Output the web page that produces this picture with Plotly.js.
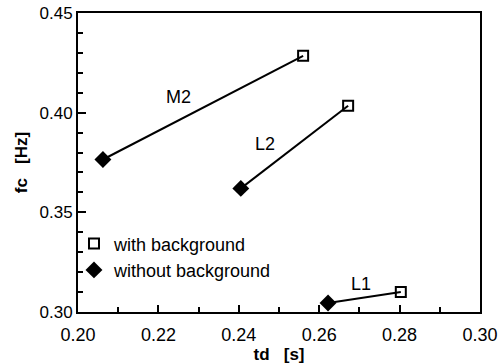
<!DOCTYPE html>
<html><head><meta charset="utf-8">
<script src="https://cdn.plot.ly/plotly-3.0.1.min.js"></script>
<style>html,body{margin:0;padding:0;background:#fff}#c{width:503px;height:364px}</style>
</head><body><div id="c"></div>
<script>
const series = ["M2", "L2", "L1"];
const tdWith = [0.2560, 0.2672, 0.2803];
const fcWith = [0.4285, 0.4035, 0.3100];
const tdWithout = [0.2062, 0.2405, 0.2622];
const fcWithout = [0.3765, 0.3620, 0.3045];
const labelTd = [0.2249, 0.2465, 0.2704];
const labelFc = [0.4080, 0.3845, 0.3140];
const xTicks = [0.20, 0.22, 0.24, 0.26, 0.28, 0.30];
const yTicks = [0.30, 0.35, 0.40, 0.45];

const traces = [];
series.forEach((s, i) => {
  traces.push({x: [tdWithout[i], tdWith[i]], y: [fcWithout[i], fcWith[i]], mode: 'lines',
    line: {color: '#000', width: 2}, showlegend: false, hoverinfo: 'skip', cliponaxis: false});
});
traces.push({x: tdWith, y: fcWith, mode: 'markers', name: 'with background', cliponaxis: false,
  marker: {symbol: 'square-open', size: 10, color: '#000', line: {width: 2, color: '#000'}}});
traces.push({x: tdWithout, y: fcWithout, mode: 'markers', name: 'without background', cliponaxis: false,
  marker: {symbol: 'diamond', size: 13, color: '#000', line: {width: 0}}});

const fontFam = 'Liberation Sans, Arial, sans-serif';
const layout = {
  width: 503, height: 364,
  margin: {l: 78, r: 23, t: 13, b: 52},
  paper_bgcolor: '#fff', plot_bgcolor: '#fff',
  font: {family: fontFam, color: '#000', size: 17},
  showlegend: true,
  legend: {x: -0.01, y: 0.29, xanchor: 'left', yanchor: 'top', bgcolor: 'rgba(0,0,0,0)',
    font: {size: 18, family: fontFam}, itemwidth: 30, tracegroupgap: 0},
  xaxis: {range: [0.20, 0.30], tickvals: xTicks, ticktext: xTicks.map(v => v.toFixed(2)),
    ticks: 'inside', ticklen: 7, tickwidth: 2, tickcolor: '#000', ticklabelstandoff: 5,
    minor: {dtick: 0.01, ticks: 'inside', ticklen: 5, tickwidth: 2, tickcolor: '#000', showgrid: false},
    showline: true, linecolor: '#000', linewidth: 2, mirror: true, showgrid: false, zeroline: false,
    tickfont: {size: 18}, fixedrange: true,
    title: {text: 'td   [s]', font: {size: 17, family: fontFam, weight: 'bold'}, standoff: 3}},
  yaxis: {range: [0.30, 0.45], tickvals: yTicks, ticktext: yTicks.map(v => v.toFixed(2)),
    ticks: 'inside', ticklen: 8, tickwidth: 2, tickcolor: '#000',
    minor: {dtick: 0.01, ticks: 'inside', ticklen: 5, tickwidth: 2, tickcolor: '#000', showgrid: false},
    showline: true, linecolor: '#000', linewidth: 2, mirror: true, showgrid: false, zeroline: false,
    tickfont: {size: 17}, fixedrange: true,
    title: {text: 'fc   [Hz]', font: {size: 17, family: fontFam, weight: 'bold'}, standoff: 8}},
  annotations: series.map((s, i) => ({x: labelTd[i], y: labelFc[i], text: s, showarrow: false,
    font: {size: 18, family: fontFam}}))
};
Plotly.newPlot('c', traces, layout, {displayModeBar: false, staticPlot: true});
</script></body></html>
